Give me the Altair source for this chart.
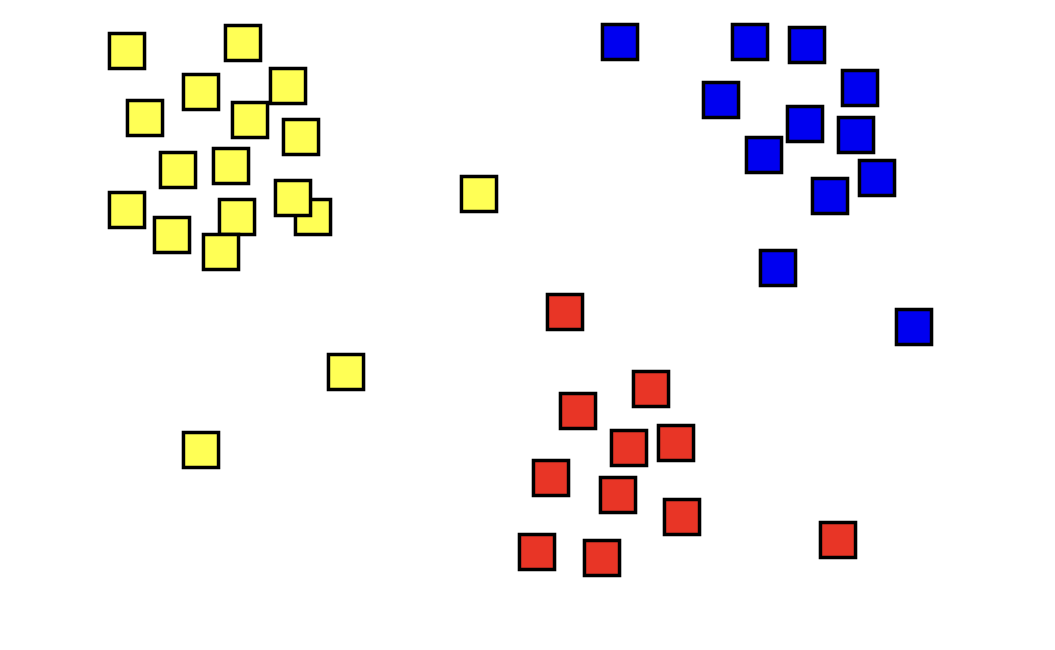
import altair as alt
import pandas as pd

# Point positions (x to the right, y measured downward from the top)
yellow_x = [127, 243, 201, 288, 145, 250, 301, 178, 231, 127, 313, 293, 237, 172, 221, 479, 346, 201]
yellow_y = [51, 43, 92, 86, 118, 120, 137, 170, 166, 210, 217, 198, 217, 235, 252, 194, 372, 450]

blue_x = [620, 750, 807, 860, 721, 805, 856, 764, 877, 830, 778, 914]
blue_y = [42, 42, 45, 88, 100, 124, 135, 155, 178, 196, 268, 327]

red_x = [565, 651, 578, 629, 676, 551, 618, 682, 537, 602, 838]
red_y = [312, 389, 411, 448, 443, 478, 495, 517, 552, 558, 540]

groups = ["yellow", "blue", "red"]
colors = ["#ffff55", "#0000f0", "#e83526"]

rows = []
order = 0
for g, xs, ys in [("yellow", yellow_x, yellow_y), ("blue", blue_x, blue_y), ("red", red_x, red_y)]:
    for x, y in zip(xs, ys):
        rows.append({"group": g, "x": x, "y": y, "order": order})
        order += 1
df = pd.DataFrame(rows)

chart = alt.Chart(df).mark_square(
    size=1230, opacity=1, stroke="black", strokeWidth=3.5, filled=True
).encode(
    x=alt.X("x:Q", scale=alt.Scale(domain=[0, 1055], nice=False, zero=False), axis=None),
    y=alt.Y("y:Q", scale=alt.Scale(domain=[0, 650], nice=False, zero=False, reverse=True), axis=None),
    color=alt.Color("group:N", scale=alt.Scale(domain=groups, range=colors), legend=None),
    order="order:Q",
).properties(
    width=1055, height=650, autosize=alt.AutoSizeParams(type="none"), padding=0,
    background="white",
).configure_view(stroke=None)

chart.save("out.html", embed_options={"renderer": "svg", "actions": False})
